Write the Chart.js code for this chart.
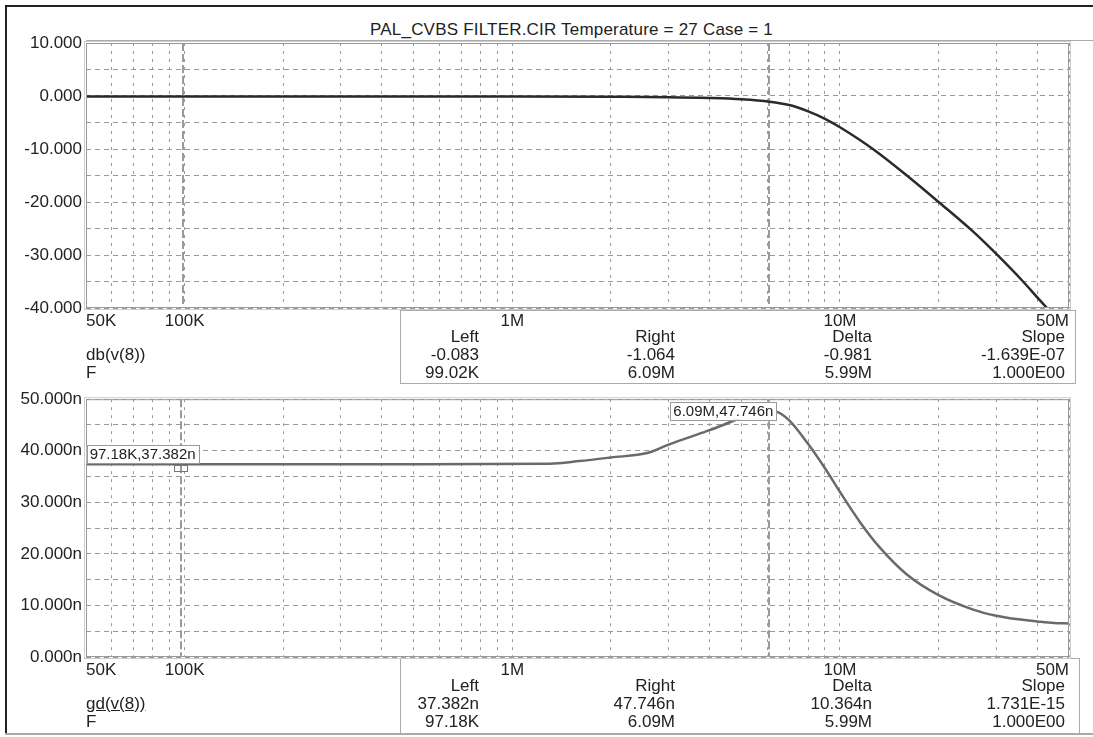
<!DOCTYPE html>
<html>
<head>
<meta charset="utf-8">
<script src="https://cdn.jsdelivr.net/npm/chart.js@4.4.1/dist/chart.umd.min.js"></script>
<style>
  body { margin: 0; background: #fff; }
  #wrap { position: relative; width: 1093px; height: 737px; overflow: hidden;
          font-family: "Liberation Sans", Arial, sans-serif; color: #222; }
  canvas { position: absolute; left: 0; }
  .t { position: absolute; font-size: 17px; line-height: 18px; white-space: nowrap; }
  .box { position: absolute; border: 1px solid #aaa; }
  .ln { position: absolute; }
</style>
</head>
<body>
<div id="wrap">
  <div class="ln" style="left:5px;top:5px;width:2px;height:730px;background:#222"></div>
  <div class="ln" style="left:5px;top:5px;width:1088px;height:2px;background:#222"></div>
  <div class="ln" style="left:5px;top:733px;width:1088px;height:2px;background:#aaa"></div>
  <div class="ln" style="left:86px;top:40px;width:1007px;height:1px;background:#aaa"></div>
  <div class="box" style="left:400px;top:310px;width:674px;height:72px"></div>
  <div class="box" style="left:400px;top:658px;width:678px;height:74px"></div>
  <div class="t" style="left:370px;top:21px;letter-spacing:0.2px">PAL_CVBS FILTER.CIR Temperature = 27 Case = 1</div>
  <canvas id="top" width="1093" height="385" style="top:0"></canvas>
  <canvas id="bottom" width="1093" height="352" style="top:385px"></canvas>
  <div id="panels"></div>
</div>
<script>
// frequency axis (Hz)
const xGrid = [5e4, 6e4, 7e4, 8e4, 9e4,
  1e5, 2e5, 3e5, 4e5, 5e5, 6e5, 7e5, 8e5, 9e5,
  1e6, 2e6, 3e6, 4e6, 5e6, 6e6, 7e6, 8e6, 9e6,
  1e7, 2e7, 3e7, 4e7, 5e7];
const xLabelVals = [5e4, 1e5, 1e6, 1e7, 5e7];
const xLabels = ['50K', '100K', '1M', '10M', '50M'];

// db(v(8))
const dbFreq = [5e4, 1e5, 1e6, 2e6, 3e6, 4e6, 5e6, 6.09e6, 7e6, 8e6, 9e6, 1e7,
  1.26e7, 1.6e7, 2e7, 2.55e7, 3e7, 3.62e7, 4e7, 4.37e7, 5e7];
const dbVals = [-0.08, -0.083, -0.1, -0.15, -0.22, -0.38, -0.62, -1.064, -1.7, -2.9, -4.3, -5.9,
  -10.0, -15.0, -20.0, -25.6, -29.8, -35.0, -38.0, -40.6, -44.5];

// gd(v(8)) in ns
const gdFreq = [5e4, 9.718e4, 5e5, 1.3e6, 1.6e6, 2e6, 2.6e6, 3e6, 3.5e6, 4e6, 4.4e6, 5e6, 6.09e6,
  6.4e6, 7e6, 8e6, 9e6, 1e7, 1.15e7, 1.32e7, 1.6e7, 2e7, 2.55e7, 3e7, 3.5e7, 4e7, 4.5e7, 5e7];
const gdVals = [37.382, 37.382, 37.4, 37.5, 38.0, 38.7, 39.6, 41.2, 42.7, 44.0, 45.0, 46.4, 47.746,
  47.6, 45.9, 41.3, 36.6, 32.0, 26.2, 21.3, 16.0, 12.0, 9.2, 8.0, 7.3, 6.9, 6.6, 6.5];

// cursors
const dbCursors = [99.02e3, 6.09e6];
const gdCursors = [97.18e3, 6.09e6];

// readouts
const readoutHeads = ['Left', 'Right', 'Delta', 'Slope'];
const dbReadout = ['-0.083', '-1.064', '-0.981', '-1.639E-07'];
const dbFreqReadout = ['99.02K', '6.09M', '5.99M', '1.000E00'];
const gdReadout = ['37.382n', '47.746n', '10.364n', '1.731E-15'];
const gdFreqReadout = ['97.18K', '6.09M', '5.99M', '1.000E00'];
const gdMarkers = [
  { f: 97.18e3, v: 37.382, text: '97.18K,37.382n', dx: 18, dy: -1, anchor: 'above' },
  { f: 6.09e6, v: 47.746, text: '6.09M,47.746n', dx: 7, dy: 0, anchor: 'middle' }
];

Chart.defaults.font.family = '"Liberation Sans", Arial, sans-serif';
Chart.defaults.color = '#222';

const scopePlugin = {
  id: 'scope',
  beforeDatasetsDraw(chart, args, opts) {
    const { ctx, chartArea: a, scales: { x } } = chart;
    ctx.save();
    ctx.strokeStyle = '#9a9a9a';
    ctx.lineWidth = 2;
    ctx.setLineDash([8, 3]);
    opts.cursors.forEach(f => {
      const px = Math.round(x.getPixelForValue(f));
      ctx.beginPath();
      ctx.moveTo(px, a.top);
      ctx.lineTo(px, a.bottom);
      ctx.stroke();
    });
    ctx.restore();
  },
  afterDraw(chart, args, opts) {
    const { ctx, chartArea: a, scales: { x, y } } = chart;
    ctx.save();
    ctx.lineWidth = 1;
    ctx.strokeStyle = '#999';
    ctx.strokeRect(a.left + 0.5, a.top + 0.5, a.width - 1, a.height - 1);
    ctx.strokeStyle = '#ccc';
    ctx.strokeRect(a.left - 1.5, a.top - 1.5, a.width + 3, a.height + 3);

    ctx.font = '15px "Liberation Sans", Arial, sans-serif';
    ctx.textBaseline = 'middle';
    (opts.markers || []).forEach(m => {
      const px = x.getPixelForValue(m.f);
      const py = y.getPixelForValue(m.v);
      // point marker
      ctx.strokeStyle = '#777';
      ctx.strokeRect(Math.round(px) - 6.5, Math.round(py) + 1.5, 13, 6);
      const w = ctx.measureText(m.text).width + 6;
      const h = 18;
      const right = px + m.dx;
      const top = m.anchor === 'above' ? py + m.dy - h : py - h / 2;
      ctx.fillStyle = '#fff';
      ctx.fillRect(right - w, top, w, h);
      ctx.strokeStyle = '#999';
      ctx.strokeRect(Math.round(right - w) + 0.5, Math.round(top) + 0.5, Math.round(w), h);
      ctx.fillStyle = '#222';
      ctx.fillText(m.text, right - w + 3, top + h / 2 + 1);
    });
    ctx.restore();
  }
};

function makeChart(id, freqs, vals, color, yMin, yMax, yFmt, padTop, xAxisH, cursors, markers) {
  return new Chart(document.getElementById(id), {
    type: 'line',
    data: {
      datasets: [{
        data: freqs.map((f, i) => ({ x: f, y: vals[i] })),
        borderColor: color,
        borderWidth: 2.5,
        pointRadius: 0,
        cubicInterpolationMode: 'monotone',
        fill: false
      }]
    },
    options: {
      responsive: false,
      animation: false,
      devicePixelRatio: 1,
      layout: { padding: { left: 0, right: 24, top: padTop, bottom: 0 } },
      plugins: { legend: { display: false }, tooltip: { enabled: false }, scope: { cursors, markers } },
      scales: {
        x: {
          type: 'logarithmic',
          min: 5e4,
          max: 5e7,
          afterBuildTicks: s => { s.ticks = xGrid.map(v => ({ value: v })); },
          afterFit: s => { s.height = xAxisH; },
          ticks: {
            autoSkip: false,
            maxRotation: 0,
            align: 'inner',
            padding: 3,
            font: { size: 17 },
            callback: v => {
              const i = xLabelVals.indexOf(v);
              return i >= 0 ? xLabels[i] : '';
            }
          },
          grid: { color: '#9a9a9a', lineWidth: 1, drawTicks: false },
          border: { display: false, dash: [3, 5] }
        },
        y: {
          min: yMin,
          max: yMax,
          afterFit: s => { s.width = 86; },
          ticks: {
            stepSize: 5,
            padding: 4,
            font: { size: 17 },
            callback: v => (v % 10 === 0 ? yFmt(v) : '')
          },
          grid: { color: '#9a9a9a', lineWidth: 1, drawTicks: false },
          border: { display: false, dash: [5, 4] }
        }
      }
    },
    plugins: [scopePlugin]
  });
}

makeChart('top', dbFreq, dbVals, '#2a2a2a', -40, 10, v => v.toFixed(3), 43, 77, dbCursors, []);
makeChart('bottom', gdFreq, gdVals, '#6a6a6a', 0, 50, v => v.toFixed(3) + 'n', 6, 80, gdCursors, gdMarkers);

// readout panels
const colRight = [479, 675, 872, 1065];
function panel(top, name, underline, vals, freqs) {
  let h = '';
  h += '<div class="t" style="left:86px;top:' + (top + 18) + 'px;' +
    (underline ? 'text-decoration:underline' : '') + '">' + name + '</div>';
  h += '<div class="t" style="left:86px;top:' + (top + 36) + 'px">F</div>';
  colRight.forEach((r, i) => {
    const st = 'right:' + (1093 - r) + 'px;text-align:right;';
    h += '<div class="t" style="' + st + 'top:' + top + 'px">' + readoutHeads[i] + '</div>';
    h += '<div class="t" style="' + st + 'top:' + (top + 18) + 'px">' + vals[i] + '</div>';
    h += '<div class="t" style="' + st + 'top:' + (top + 36) + 'px">' + freqs[i] + '</div>';
  });
  return h;
}
document.getElementById('panels').innerHTML =
  panel(328, 'db(v(8))', false, dbReadout, dbFreqReadout) +
  panel(677, 'gd(v(8))', true, gdReadout, gdFreqReadout);
</script>
</body>
</html>
